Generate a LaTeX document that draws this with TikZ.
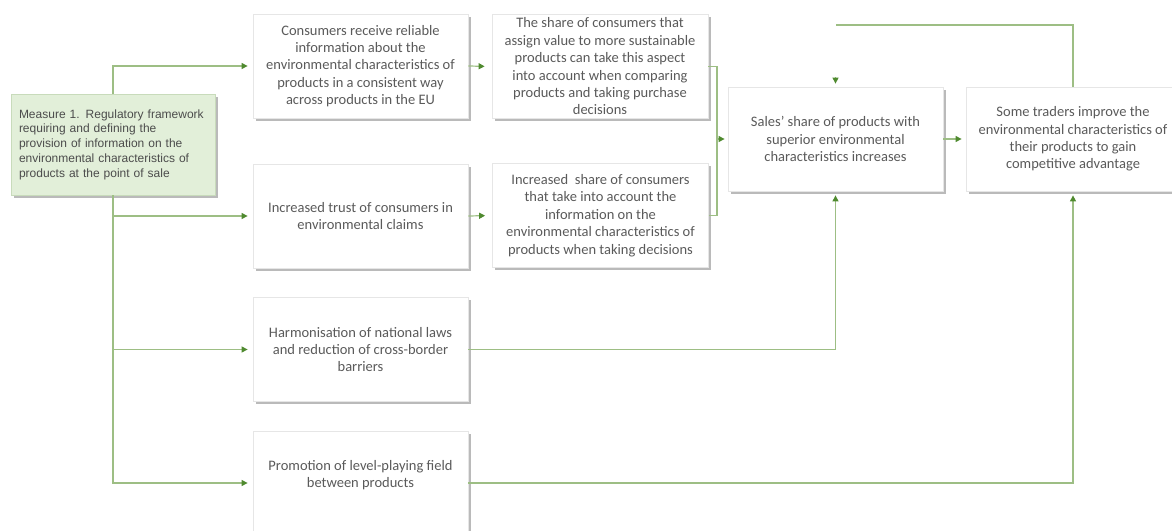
\documentclass[tikz,border=0pt]{standalone}
\usepackage{fontspec}
\setmainfont{Carlito}
\newfontfamily\measurefont{Liberation Sans}
\usetikzlibrary{arrows.meta,shadows}

\definecolor{linegreen}{HTML}{9DBE84}
\definecolor{tipgreen}{HTML}{4F8A2F}
\definecolor{measurefill}{HTML}{E2EFD9}
\definecolor{measureedge}{HTML}{C8DBBB}
\definecolor{boxedge}{HTML}{E6E6E6}
\definecolor{boxtext}{HTML}{5A5A5A}

\tikzset{
  effectbox/.style={draw=boxedge, line width=0.8pt, fill=white, inner sep=0pt,
    minimum width=215pt, minimum height=104pt, align=center, text=boxtext,
    font=\fontsize{14.5}{17.4}\selectfont,
    drop shadow={shadow xshift=2.5pt, shadow yshift=-2.5pt, fill=black!45, opacity=0.6}},
  measurebox/.style={draw=measureedge, line width=0.8pt, fill=measurefill,
    inner xsep=8pt, inner ysep=0pt, text width=188pt, minimum height=101pt,
    align=left, text=black!70, font=\measurefont\fontsize{12}{14.7}\selectfont,
    drop shadow={shadow xshift=2.5pt, shadow yshift=-2.5pt, fill=black!45, opacity=0.6}},
  link/.style={draw=linegreen, line width=1.2pt},
  flow/.style={link, -{Triangle[length=6pt,width=6pt,color=tipgreen]}},
}

\begin{document}
\begin{tikzpicture}[x=1pt,y=-1pt]
\useasboundingbox (0,0) rectangle (1172,530);

% connectors that run behind the boxes
\coordinate (trunktop) at (113,67);
\coordinate (merge) at (717,139);
\coordinate (loopcorner) at (836,25);
\coordinate (loopend) at (835.5,77);

% the measure
\node[measurebox] (measure) at (113,144.5)
  {Measure 1. Regulatory framework\\requiring and defining the\\provision of information on the\\environmental characteristics of\\products at the point of sale};

% first column of effects
\node[effectbox] (info) at (360.5,66)
  {Consumers receive reliable\\information about the\\environmental characteristics of\\products in a consistent way\\across products in the EU};
\node[effectbox] (trust) at (360.5,216)
  {Increased trust of consumers in\\environmental claims};
\node[effectbox] (harmon) at (360.5,349.5)
  {Harmonisation of national laws\\and reduction of cross-border\\barriers};
\node[effectbox, label={[text=boxtext, align=center, font=\fontsize{14.5}{17.4}\selectfont, yshift=8pt]center:Promotion of level-playing field\\between products}] (level) at (360.5,483) {};

% second column of effects
\node[effectbox, minimum width=216pt] (value) at (600,66.5)
  {The share of consumers that\\assign value to more sustainable\\products can take this aspect\\into account when comparing\\products and taking purchase\\decisions};
\node[effectbox, minimum width=216pt] (share) at (600.5,215.5)
  {Increased\ \ share of consumers\\that take into account the\\information on the\\environmental characteristics of\\products when taking decisions};

% outcomes
\node[effectbox] (sales) at (835.5,139)
  {Sales' share of products with\\superior environmental\\characteristics increases};
\node[effectbox, minimum width=214pt] (traders) at (1073,139)
  {Some traders improve the\\environmental characteristics of\\their products to gain\\competitive advantage};

% measure to first column
\draw[flow, shorten >=5pt] (measure.north) |- (info.west);
\draw[flow, shorten >=5pt] (measure.south) |- (trust.west);
\draw[flow, shorten >=5pt] (measure.south) |- (harmon.west);
\draw[flow, shorten >=5pt] (measure.south) |- (level.west);

% first column to second column
\draw[flow, shorten >=7pt] (info.east) -- (value.west);
\draw[flow, shorten >=7pt] (trust.east) -- (share.west);

% second column to sales
\draw[link] (value.east) -| (merge);
\draw[link] (share.east) -| (merge);
\draw[flow, shorten >=3pt] (merge) -- (sales.west);

% lower boxes to outcomes
\draw[flow, shorten >=4pt] (harmon.east) -| (sales.south);
\draw[flow, shorten >=4pt] (level.east) -| (traders.south);

% sales to traders
\draw[flow, shorten >=4pt] (sales.east) -- (traders.west);

% feedback from traders back to sales
\draw[link] (traders.north) |- (loopcorner);
\draw[flow, shorten >=3pt] (loopend) -- (sales.north);
\end{tikzpicture}
\end{document}
